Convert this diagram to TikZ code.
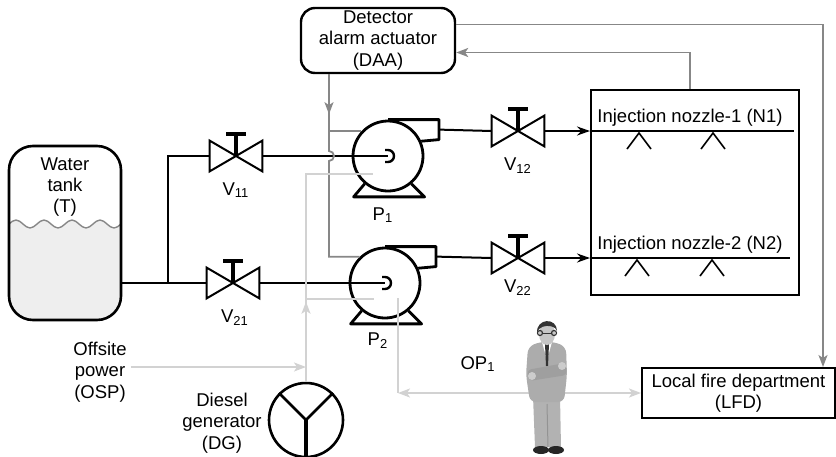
\documentclass[tikz,border=0pt]{standalone}
\usepackage{fontspec}
\setmainfont{Liberation Sans}
\usepackage{tikz}
\usetikzlibrary{positioning, arrows.meta, shapes.geometric}
\definecolor{grigioscuro}{RGB}{135,135,135}
\definecolor{grigiochiaro}{RGB}{210,210,210}
\definecolor{acqua}{RGB}{238,238,238}

\begin{document}
\begin{tikzpicture}[
    x=0.5pt, y=-0.5pt,
    font=\fontsize{9.25}{10.7}\selectfont,
    % --- Stili per linee e nodi ---
    tubo/.style={line width=1pt},
    segnale/.style={draw=grigioscuro, line width=0.9pt},
    potenza/.style={draw=grigiochiaro, line width=0.9pt},
    frecciagrigia/.style={-{Stealth[length=6pt, width=4.5pt, inset=1.5pt]}},
    freccianera/.style={-{Stealth[length=6.5pt, width=4.5pt]}},
    valvola/.style={minimum width=26pt, minimum height=15pt, inner sep=0},
    pompa/.style={circle, draw, line width=1.4pt, minimum size=35pt, inner sep=0},
    riquadro/.style={draw, line width=1pt, align=center, inner sep=0},
    etichetta/.style={align=center, inner sep=2pt}
]
\useasboundingbox (0,0) rectangle (836,456);

% 1. Serbatoio d'acqua con il livello
\begin{scope}
    \clip[rounded corners=12pt] (9,146) rectangle (121,320);
    \fill[acqua] (9,224) sin (16,220) cos (23,224) sin (30,228) cos (37,224)
        sin (44,220) cos (51,224) sin (58,228) cos (65,224) sin (72,220)
        cos (79,224) sin (86,228) cos (93,224) sin (100,220) cos (107,224)
        sin (114,228) cos (121,224) -- (121,330) -- (9,330) -- cycle;
\end{scope}
\draw[grigioscuro, line width=0.7pt] (9,224) sin (16,220) cos (23,224) sin (30,228) cos (37,224)
    sin (44,220) cos (51,224) sin (58,228) cos (65,224) sin (72,220)
    cos (79,224) sin (86,228) cos (93,224) sin (100,220) cos (107,224)
    sin (114,228) cos (121,224);
\node (serbatoio) [draw, rounded corners=12pt, line width=1.3pt,
    minimum width=56pt, minimum height=87pt] at (65,233) {};
\node (serbatoio_testo) [etichetta] at (65,187) {Water\\tank\\(T)};

% 2. Valvole e pompe
\node (v11) [valvola] at (236,156) {};
\node (v21) [valvola] at (233,283) {};
\node (v12) [valvola] at (518,131) {};
\node (v22) [valvola] at (518,258) {};
\node (p1) [pompa] at (388,156) {};
\node (p2) [pompa] at (385,283) {};

\foreach \v in {v11,v21,v12,v22} {
    \draw[line width=1pt] (\v.north west) -- (\v.south east) -- (\v.north east) -- (\v.south west) -- cycle;
    \draw[line width=1.8pt] (\v.center) -- ++(0,-22);
    \draw[line width=2.2pt] ([shift={(-10,-22)}]\v.center) -- ++(20,0);
}
\foreach \p in {p1,p2} {
    \draw[line width=1.4pt, line join=round] (\p.north) -- ++(51,0) -- ++(0,20) -- (\p.24);
    \draw[line width=1.4pt, line join=round] (\p.-130) -- ++(-11,13) -- ++(71,0) -- (\p.-50);
    \draw[line width=1.2pt] ([shift={(-3,-6)}]\p.center) -- ++(3,0)
        arc[start angle=-90, end angle=90, radius=6] -- ++(-3,0);
}

\node at (236,190) {V\textsubscript{11}};
\node at (235,318) {V\textsubscript{21}};
\node at (518,166) {V\textsubscript{12}};
\node at (518,288) {V\textsubscript{22}};
\node at (383,215) {P\textsubscript{1}};
\node at (378,341) {P\textsubscript{2}};

% 3. Tubazioni
\coordinate (giunto) at (168,283);
\draw[tubo] (serbatoio.east |- giunto) -- (v21.west);
\draw[tubo] (giunto) |- (v11.west);
\draw[tubo] (v11.east) -- (p1.center);
\draw[tubo] (v21.east) -- (p2.center);
\draw[tubo] ([shift={(51,10)}]p1.north) -- (v12.west);
\draw[tubo] ([shift={(51,10)}]p2.north) -- (v22.west);

% 4. Ugelli di iniezione
\node (ugelli) [draw, line width=1pt, minimum width=104pt, minimum height=102.5pt] at (695,192.5) {};
\draw[tubo, freccianera] (v12.east) -- (ugelli.west |- v12);
\draw[tubo, freccianera] (v22.east) -- (ugelli.west |- v22);
\draw[tubo] (ugelli.west |- v12) -- +(204,0);
\draw[tubo] (ugelli.west |- v22) -- +(200,0);
\node (n1) [above, inner sep=2pt] at (690,131) {Injection nozzle-1 (N1)};
\node (n2) [above, inner sep=2pt] at (690,258) {Injection nozzle-2 (N2)};
\foreach \x in {639,713}
    \draw[line width=0.8pt] (\x-12,149) -- (\x,133) -- (\x+12,149);
\foreach \x in {637,712}
    \draw[line width=0.8pt] (\x-12,276) -- (\x,260) -- (\x+12,276);

% 5. Rivelatore e vigili del fuoco
\node (daa) [riquadro, rounded corners=7pt, line width=1.2pt,
    minimum width=77pt, minimum height=32.5pt] at (378,40.5) {Detector\\alarm actuator\\(DAA)};
\node (lfd) [riquadro, minimum width=96.5pt, minimum height=25pt] at (738.5,393) {Local fire department\\(LFD)};

\coordinate (salto) at (329,151);
\draw[segnale, frecciagrigia] (daa.south -| salto) -- ++(0,40);
\draw[segnale] (daa.south -| salto) -- (salto)
    arc[start angle=-90, end angle=90, radius=5] -- (salto |- p2.134) -- (p2.134);
\draw[segnale] (salto |- p1.137) -- (p1.137);
\draw[segnale, frecciagrigia] ([yshift=8pt]daa.east) -| ([xshift=-6.5pt]lfd.north east);
\draw[segnale, frecciagrigia] ([xshift=-2.5pt]ugelli.north) |- ([yshift=-6pt]daa.east);

% 6. Alimentazione: rete esterna e diesel
\node (osp) [etichetta] at (100,372) {Offsite\\power\\(OSP)};
\node (dg_testo) [etichetta] at (222,423) {Diesel\\generator\\(DG)};
\node (dg) [circle, draw, line width=1.3pt, minimum size=37pt, inner sep=0] at (306,420) {};
\draw[line width=1.3pt] (dg.135) -- (dg.center) -- (dg.45);
\draw[line width=2pt] (dg.center) -- (dg.south);

\coordinate (alim1) at (373,174);
\coordinate (alim2) at (374,299);
\coordinate (ingresso) at (306,367);
\draw[potenza] (dg.north) |- (alim1);
\draw[potenza] (dg.north |- alim2) -- (alim2);
\draw[potenza, frecciagrigia] (dg.north) -- ++(0,-80);
\draw[potenza, frecciagrigia] (osp.east |- ingresso) -- (ingresso);

% 7. Operatore OP1 e collegamento con LFD
\coordinate (sensore) at (398,298);
\draw[potenza] (sensore) -- (sensore |- lfd.west);
\draw[potenza, {Stealth[length=6pt, width=4.5pt, inset=1.5pt]}-{Stealth[length=6pt, width=4.5pt, inset=1.5pt]}]
    (sensore |- lfd.west) -- (lfd.west);
\node (op1) at (478,364) {OP\textsubscript{1}};

\begin{scope}[shift={(547,320)}]
    % gambe e scarpe
    \fill[gray!60] (-14,76) -- (13,76) -- (14,127) -- (-12,127) -- cycle;
    \draw[gray!85, line width=0.5pt] (0,84) -- (1,127);
    \fill[black!85] (-6,130) ellipse[x radius=8, y radius=4];
    \fill[black!85] (9,130) ellipse[x radius=8, y radius=4];
    % giacca
    \fill[gray!65, rounded corners=3pt] (-8,22) -- (-19,27) -- (-21,55) -- (-17,82)
        -- (17,82) -- (20,55) -- (19,27) -- (8,22) -- cycle;
    \fill[white] (-5,22) -- (5,22) -- (0,40) -- cycle;
    \fill[black!80] (-2,24) -- (2,24) -- (1,46) -- (-1,46) -- cycle;
    % braccia incrociate
    \fill[gray!75, rounded corners=2pt] (-20,50) -- (18,43) -- (20,55) -- (-18,61) -- cycle;
    \fill[gray!40] (15,46) circle[radius=4];
    \fill[gray!40] (-15,56) circle[radius=4];
    % testa
    \fill[gray!45] (0,14) ellipse[x radius=8, y radius=11];
    \fill[black!80] (-10,13) .. controls (-11,-2) and (10,-3) .. (10,11)
        -- (8,8) .. controls (4,5) and (-4,5) .. (-8,9) -- cycle;
    \draw[black!80, line width=0.6pt] (-7,13) circle[radius=2.5] (7,13) circle[radius=2.5];
    \draw[black!80, line width=0.4pt] (-4.5,13) -- (4.5,13);
\end{scope}
\end{tikzpicture}
\end{document}
